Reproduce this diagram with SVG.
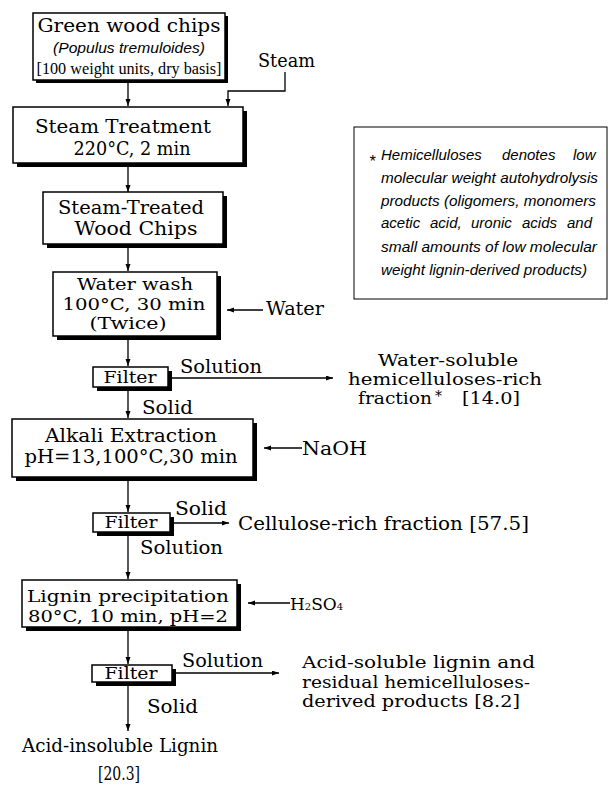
<svg xmlns="http://www.w3.org/2000/svg" width="610" height="788" viewBox="0 0 610 788">
<style>
.bx{fill:#fff;stroke:#000;stroke-width:1.5}
.sh{fill:#000}
.s{font-family:"DejaVu Serif",serif;font-size:18px;fill:#000}
.m{text-anchor:middle}
.f{font-family:"DejaVu Serif",serif;font-size:17px;fill:#000;text-anchor:middle}
.t{font-family:"Liberation Serif",serif;font-size:16px;fill:#000}
.n{font-family:"Liberation Sans",Arial,sans-serif;font-style:italic;font-size:15px;fill:#000}
.c{fill:none;stroke:#000;stroke-width:1.3}
</style>
<defs>
<marker id="ah" markerWidth="8" markerHeight="6" refX="7" refY="2.5" orient="auto" markerUnits="userSpaceOnUse">
<path d="M0,0 L7,2.5 L0,5 z" fill="#000"/>
</marker>
</defs>

<g id="connectors">
<path class="c" d="M128,80 V106" marker-end="url(#ah)"/>
<path class="c" d="M285,72 V91 H228 V106" marker-end="url(#ah)"/>
<path class="c" d="M128,163 V192" marker-end="url(#ah)"/>
<path class="c" d="M128,244 V271" marker-end="url(#ah)"/>
<path class="c" d="M263,310 H227" marker-end="url(#ah)"/>
<path class="c" d="M128,336 V366" marker-end="url(#ah)"/>
<path class="c" d="M170,378 H333" marker-end="url(#ah)"/>
<path class="c" d="M128,389 V418" marker-end="url(#ah)"/>
<path class="c" d="M302,448 H264" marker-end="url(#ah)"/>
<path class="c" d="M128,477 V512" marker-end="url(#ah)"/>
<path class="c" d="M172,523 H229" marker-end="url(#ah)"/>
<path class="c" d="M128,534 V579" marker-end="url(#ah)"/>
<path class="c" d="M290,603 H248" marker-end="url(#ah)"/>
<path class="c" d="M128,627 V664" marker-end="url(#ah)"/>
<path class="c" d="M174,673 H279" marker-end="url(#ah)"/>
<path class="c" d="M128,684 V731" marker-end="url(#ah)"/>
</g>

<g id="green-wood-chips">
<rect class="sh" x="36" y="16" width="192" height="67"/>
<rect class="bx" x="33" y="13" width="192" height="67"/>
<text class="s m" x="129" y="32" style="font-size:19px" textLength="183" lengthAdjust="spacingAndGlyphs">Green wood chips</text>
<text class="n m" x="129" y="53" textLength="152" lengthAdjust="spacingAndGlyphs">(Populus tremuloides)</text>
<text class="t m" x="129" y="74" textLength="185" lengthAdjust="spacingAndGlyphs">[100 weight units, dry basis]</text>
</g>

<g id="steam">
<text class="s" x="258" y="67" textLength="57" lengthAdjust="spacingAndGlyphs">Steam</text>
</g>

<g id="steam-treatment">
<rect class="sh" x="17" y="111" width="230" height="56"/>
<rect class="bx" x="13" y="107" width="230" height="56"/>
<text class="s m" x="123" y="133" textLength="176" lengthAdjust="spacingAndGlyphs">Steam Treatment</text>
<text class="s m" x="132" y="155" textLength="117" lengthAdjust="spacingAndGlyphs">220°C, 2 min</text>
</g>

<g id="steam-treated-chips">
<rect class="sh" x="47" y="196" width="180" height="52"/>
<rect class="bx" x="43" y="192" width="180" height="52"/>
<text class="s m" x="131" y="214" textLength="146" lengthAdjust="spacingAndGlyphs">Steam-Treated</text>
<text class="s m" x="136" y="235" textLength="123" lengthAdjust="spacingAndGlyphs">Wood Chips</text>
</g>

<g id="water-wash">
<rect class="sh" x="57" y="276" width="164" height="64"/>
<rect class="bx" x="53" y="272" width="164" height="64"/>
<text class="s m" x="135" y="290" style="font-size:17px" textLength="116" lengthAdjust="spacingAndGlyphs">Water wash</text>
<text class="s m" x="134" y="310" style="font-size:17px" textLength="143" lengthAdjust="spacingAndGlyphs">100°C, 30 min</text>
<text class="s m" x="128" y="329" style="font-size:17px" textLength="77" lengthAdjust="spacingAndGlyphs">(Twice)</text>
</g>

<g id="water">
<text class="s" x="266" y="315" textLength="58" lengthAdjust="spacingAndGlyphs">Water</text>
</g>

<g id="filter-1">
<rect class="sh" x="97" y="371" width="75" height="20"/>
<rect class="bx" x="93" y="367" width="75" height="20"/>
<text class="f" x="130" y="383" textLength="53" lengthAdjust="spacingAndGlyphs">Filter</text>
<text class="s" x="180" y="373" textLength="82" lengthAdjust="spacingAndGlyphs">Solution</text>
<text class="s" x="142" y="414" textLength="51" lengthAdjust="spacingAndGlyphs">Solid</text>
</g>

<g id="water-soluble-fraction">
<text class="s m" x="448" y="366" style="font-size:16px" textLength="140" lengthAdjust="spacingAndGlyphs">Water-soluble</text>
<text class="s m" x="445" y="385" style="font-size:17px" textLength="194" lengthAdjust="spacingAndGlyphs">hemicelluloses-rich</text>
<text class="s" x="358" y="404" style="font-size:17px" textLength="74" lengthAdjust="spacingAndGlyphs">fraction</text>
<text class="s" x="435" y="401" style="font-size:14px">*</text>
<text class="s" x="462" y="404" style="font-size:17px" textLength="58" lengthAdjust="spacingAndGlyphs">[14.0]</text>
</g>

<g id="alkali-extraction">
<rect class="sh" x="16" y="423" width="241" height="58"/>
<rect class="bx" x="12" y="419" width="241" height="58"/>
<text class="s m" x="131" y="442" textLength="172" lengthAdjust="spacingAndGlyphs">Alkali Extraction</text>
<text class="s m" x="131" y="463" textLength="213" lengthAdjust="spacingAndGlyphs">pH=13,100°C,30 min</text>
</g>

<g id="naoh">
<text class="s" x="302" y="455" textLength="65" lengthAdjust="spacingAndGlyphs">NaOH</text>
</g>

<g id="filter-2">
<rect class="sh" x="97" y="517" width="77" height="19"/>
<rect class="bx" x="93" y="513" width="77" height="19"/>
<text class="f" x="131" y="528" textLength="53" lengthAdjust="spacingAndGlyphs">Filter</text>
<text class="s" x="175" y="515" textLength="52" lengthAdjust="spacingAndGlyphs">Solid</text>
<text class="s" x="140" y="554" textLength="83" lengthAdjust="spacingAndGlyphs">Solution</text>
</g>

<g id="cellulose-fraction">
<text class="s" x="238" y="530" textLength="291" lengthAdjust="spacingAndGlyphs">Cellulose-rich fraction [57.5]</text>
</g>

<g id="lignin-precipitation">
<rect class="sh" x="26" y="584" width="215" height="47"/>
<rect class="bx" x="22" y="580" width="215" height="47"/>
<text class="s m" x="128" y="602" style="font-size:17px" textLength="202" lengthAdjust="spacingAndGlyphs">Lignin precipitation</text>
<text class="s m" x="128" y="622" style="font-size:17px" textLength="200" lengthAdjust="spacingAndGlyphs">80°C, 10 min, pH=2</text>
</g>

<g id="h2so4">
<text class="s" x="290" y="610" style="font-size:17px">H<tspan style="font-size:10px">2</tspan>SO<tspan style="font-size:10px">4</tspan></text>
</g>

<g id="filter-3">
<rect class="sh" x="96" y="669" width="80" height="17"/>
<rect class="bx" x="92" y="665" width="80" height="17"/>
<text class="f" x="131" y="679" textLength="53" lengthAdjust="spacingAndGlyphs">Filter</text>
<text class="s" x="182" y="667" textLength="81" lengthAdjust="spacingAndGlyphs">Solution</text>
<text class="s" x="147" y="713" textLength="51" lengthAdjust="spacingAndGlyphs">Solid</text>
</g>

<g id="acid-soluble-products">
<text class="s" x="302" y="668" style="font-size:17px" textLength="233" lengthAdjust="spacingAndGlyphs">Acid-soluble lignin and</text>
<text class="s" x="302" y="688" style="font-size:17px" textLength="228" lengthAdjust="spacingAndGlyphs">residual hemicelluloses-</text>
<text class="s" x="302" y="707" style="font-size:17px" textLength="218" lengthAdjust="spacingAndGlyphs">derived products  [8.2]</text>
</g>

<g id="acid-insoluble-lignin">
<text class="s m" x="120" y="752" textLength="196" lengthAdjust="spacingAndGlyphs">Acid-insoluble Lignin</text>
<text class="s m" x="119" y="780" textLength="42" lengthAdjust="spacingAndGlyphs">[20.3]</text>
</g>

<g id="note">
<rect x="354" y="127" width="253" height="172" fill="#fff" stroke="#000" stroke-width="1"/>
<text class="n" x="369" y="167" style="font-size:16px">*</text>
<text class="n" x="381" y="160">Hemicelluloses</text>
<text class="n" x="502" y="160">denotes</text>
<text class="n" x="573" y="160">low</text>
<text class="n" x="381" y="183" textLength="217" lengthAdjust="spacingAndGlyphs">molecular weight autohydrolysis</text>
<text class="n" x="381" y="206" textLength="215" lengthAdjust="spacingAndGlyphs">products (oligomers, monomers</text>
<text class="n" x="381" y="228">acetic</text>
<text class="n" x="430" y="228">acid,</text>
<text class="n" x="471" y="228">uronic</text>
<text class="n" x="522" y="228">acids</text>
<text class="n" x="567" y="228">and</text>
<text class="n" x="381" y="252" textLength="216" lengthAdjust="spacingAndGlyphs">small amounts of low molecular</text>
<text class="n" x="381" y="275" textLength="206" lengthAdjust="spacingAndGlyphs">weight lignin-derived products)</text>
</g>
</svg>
